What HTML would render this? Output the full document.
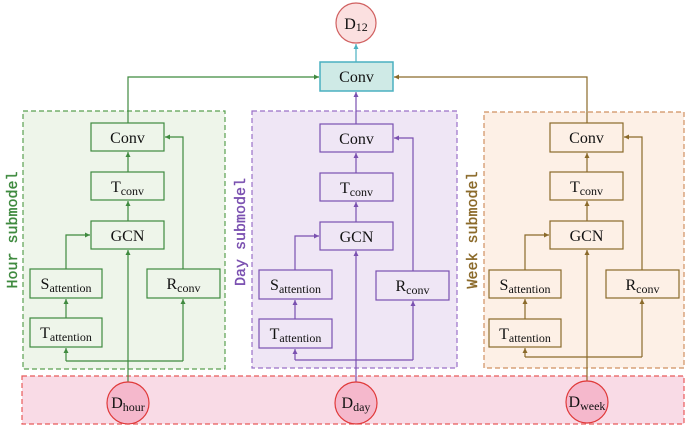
<!DOCTYPE html>
<html><head><meta charset="utf-8"><style>
html,body{margin:0;padding:0;background:#fff}
svg{display:block}
text{font-family:"Liberation Serif",serif;fill:#111}
.sub{font-size:12px}
.lab{font-family:"Liberation Mono",monospace;font-size:15px;stroke-width:0.4px}
</style></head><body>
<svg width="685" height="426" viewBox="0 0 685 426" xmlns="http://www.w3.org/2000/svg">
<defs>
<marker id="ag" markerWidth="6" markerHeight="6" refX="5" refY="3" orient="auto" markerUnits="userSpaceOnUse"><path d="M0,0.5 L5,3 L0,5.5z" fill="#3f8a3f"/></marker>
<marker id="ap" markerWidth="6" markerHeight="6" refX="5" refY="3" orient="auto" markerUnits="userSpaceOnUse"><path d="M0,0.5 L5,3 L0,5.5z" fill="#7a50b0"/></marker>
<marker id="ab" markerWidth="6" markerHeight="6" refX="5" refY="3" orient="auto" markerUnits="userSpaceOnUse"><path d="M0,0.5 L5,3 L0,5.5z" fill="#8b6a2a"/></marker>
<marker id="ac" markerWidth="6" markerHeight="6" refX="5" refY="3" orient="auto" markerUnits="userSpaceOnUse"><path d="M0,0.5 L5,3 L0,5.5z" fill="#4ab0c0"/></marker>
</defs>

<rect x="23" y="111" width="202" height="258" fill="#eef5ea" stroke="#5aa050" stroke-width="1.2" stroke-dasharray="5,3"/>
<rect x="252" y="111" width="205" height="257" fill="#efe6f5" stroke="#9a70c8" stroke-width="1.2" stroke-dasharray="5,3"/>
<rect x="484" y="112" width="200" height="256" fill="#fdf0e6" stroke="#d09060" stroke-width="1.2" stroke-dasharray="5,3"/>
<rect x="22" y="376" width="662" height="48" fill="#f9dbe6" stroke="#e85a5a" stroke-width="1.2" stroke-dasharray="5,3"/>

<text class="lab" transform="translate(17,230) rotate(-90)" text-anchor="middle" style="fill:#3f8a3f;stroke:#3f8a3f">Hour submodel</text>
<text class="lab" transform="translate(245,232) rotate(-90)" text-anchor="middle" style="fill:#7a50b0;stroke:#7a50b0">Day submodel</text>
<text class="lab" transform="translate(477,230) rotate(-90)" text-anchor="middle" style="fill:#8b6a2a;stroke:#8b6a2a">Week submodel</text>

<rect x="320" y="62" width="73" height="29" fill="#cfeae6" stroke="#4ab0c0" stroke-width="1.5"/>
<text x="356.5" y="82" font-size="16" text-anchor="middle">Conv</text>
<circle cx="356" cy="23" r="20" fill="#fbe0e0" stroke="#d06060" stroke-width="1.2"/>
<text x="356" y="29" font-size="16" text-anchor="middle">D<tspan class="sub" dy="2">12</tspan></text>
<line x1="356" y1="62" x2="356" y2="44" stroke="#4ab0c0" stroke-width="1.2" marker-end="url(#ac)"/>
<polyline points="128,123 128,77 319,77" fill="none" stroke="#3f8a3f" stroke-width="1.2" marker-end="url(#ag)"/>
<polyline points="587,123 587,77 394,77" fill="none" stroke="#8b6a2a" stroke-width="1.2" marker-end="url(#ab)"/>
<line x1="356" y1="124" x2="356" y2="92" stroke="#7a50b0" stroke-width="1.2" marker-end="url(#ap)"/>

<g stroke="#3f8a3f" stroke-width="1.2" fill="none">
<rect x="91" y="123" width="73" height="28"/><rect x="91" y="172" width="73" height="28"/><rect x="91" y="221" width="73" height="28"/>
<rect x="30" y="269" width="72" height="29"/><rect x="30" y="318" width="72" height="29"/><rect x="147" y="269" width="73" height="29"/>
<line x1="128" y1="382" x2="128" y2="250" marker-end="url(#ag)"/>
<line x1="128" y1="221" x2="128" y2="201" marker-end="url(#ag)"/>
<line x1="128" y1="172" x2="128" y2="152" marker-end="url(#ag)"/>
<polyline points="66,361 183,361"/>
<line x1="66" y1="361" x2="66" y2="348" marker-end="url(#ag)"/>
<line x1="183" y1="361" x2="183" y2="299" marker-end="url(#ag)"/>
<line x1="66" y1="318" x2="66" y2="299" marker-end="url(#ag)"/>
<polyline points="66,269 66,235 90,235" marker-end="url(#ag)"/>
<polyline points="183,269 183,137 165,137" marker-end="url(#ag)"/>
</g>
<text x="127.5" y="143" font-size="16" text-anchor="middle">Conv</text>
<text x="127.5" y="192" font-size="16" text-anchor="middle">T<tspan class="sub" dy="3">conv</tspan></text>
<text x="127.5" y="241" font-size="16" text-anchor="middle">GCN</text>
<text x="66" y="289" font-size="16" text-anchor="middle">S<tspan class="sub" dy="3">attention</tspan></text>
<text x="66" y="338" font-size="16" text-anchor="middle">T<tspan class="sub" dy="3">attention</tspan></text>
<text x="183.5" y="289" font-size="16" text-anchor="middle">R<tspan class="sub" dy="3">conv</tspan></text>

<g stroke="#7a50b0" stroke-width="1.2" fill="none">
<rect x="320" y="124" width="73" height="28"/><rect x="320" y="173" width="73" height="28"/><rect x="320" y="222" width="73" height="28"/>
<rect x="259" y="270" width="73" height="29"/><rect x="259" y="319" width="73" height="29"/><rect x="376" y="271" width="73" height="29"/>
<line x1="356" y1="382" x2="356" y2="251" marker-end="url(#ap)"/>
<line x1="356" y1="222" x2="356" y2="202" marker-end="url(#ap)"/>
<line x1="356" y1="173" x2="356" y2="153" marker-end="url(#ap)"/>
<polyline points="295,360 413,360"/>
<line x1="295" y1="360" x2="295" y2="349" marker-end="url(#ap)"/>
<line x1="413" y1="360" x2="413" y2="301" marker-end="url(#ap)"/>
<line x1="295" y1="319" x2="295" y2="300" marker-end="url(#ap)"/>
<polyline points="295,270 295,236 319,236" marker-end="url(#ap)"/>
<polyline points="413,271 413,138 394,138" marker-end="url(#ap)"/>
</g>
<text x="356.5" y="144" font-size="16" text-anchor="middle">Conv</text>
<text x="356.5" y="193" font-size="16" text-anchor="middle">T<tspan class="sub" dy="3">conv</tspan></text>
<text x="356.5" y="242" font-size="16" text-anchor="middle">GCN</text>
<text x="295.5" y="290" font-size="16" text-anchor="middle">S<tspan class="sub" dy="3">attention</tspan></text>
<text x="295.5" y="339" font-size="16" text-anchor="middle">T<tspan class="sub" dy="3">attention</tspan></text>
<text x="412.5" y="291" font-size="16" text-anchor="middle">R<tspan class="sub" dy="3">conv</tspan></text>

<g stroke="#8b6a2a" stroke-width="1.2" fill="none">
<rect x="550" y="123" width="73" height="29"/><rect x="550" y="172" width="73" height="28"/><rect x="550" y="221" width="73" height="28"/>
<rect x="489" y="270" width="72" height="28"/><rect x="489" y="319" width="72" height="28"/><rect x="606" y="270" width="73" height="28"/>
<line x1="587" y1="381" x2="587" y2="250" marker-end="url(#ab)"/>
<line x1="587" y1="221" x2="587" y2="201" marker-end="url(#ab)"/>
<line x1="587" y1="172" x2="587" y2="153" marker-end="url(#ab)"/>
<polyline points="525,357 642,357"/>
<line x1="525" y1="357" x2="525" y2="348" marker-end="url(#ab)"/>
<line x1="642" y1="357" x2="642" y2="299" marker-end="url(#ab)"/>
<line x1="525" y1="319" x2="525" y2="299" marker-end="url(#ab)"/>
<polyline points="525,270 525,235 549,235" marker-end="url(#ab)"/>
<polyline points="642,270 642,137 624,137" marker-end="url(#ab)"/>
</g>
<text x="586.5" y="143" font-size="16" text-anchor="middle">Conv</text>
<text x="586.5" y="192" font-size="16" text-anchor="middle">T<tspan class="sub" dy="3">conv</tspan></text>
<text x="586.5" y="241" font-size="16" text-anchor="middle">GCN</text>
<text x="525" y="290" font-size="16" text-anchor="middle">S<tspan class="sub" dy="3">attention</tspan></text>
<text x="525" y="339" font-size="16" text-anchor="middle">T<tspan class="sub" dy="3">attention</tspan></text>
<text x="642.5" y="290" font-size="16" text-anchor="middle">R<tspan class="sub" dy="3">conv</tspan></text>

<circle cx="128" cy="403" r="21" fill="#f5b8cc" stroke="#e03a3a" stroke-width="1.2"/>
<text x="128" y="408" font-size="16" text-anchor="middle">D<tspan class="sub" dy="3">hour</tspan></text>
<circle cx="356" cy="403" r="21" fill="#f5b8cc" stroke="#e03a3a" stroke-width="1.2"/>
<text x="356" y="408" font-size="16" text-anchor="middle">D<tspan class="sub" dy="3">day</tspan></text>
<circle cx="587" cy="402" r="21" fill="#f5b8cc" stroke="#e03a3a" stroke-width="1.2"/>
<text x="587" y="407" font-size="16" text-anchor="middle">D<tspan class="sub" dy="3">week</tspan></text>
</svg>
</body></html>
